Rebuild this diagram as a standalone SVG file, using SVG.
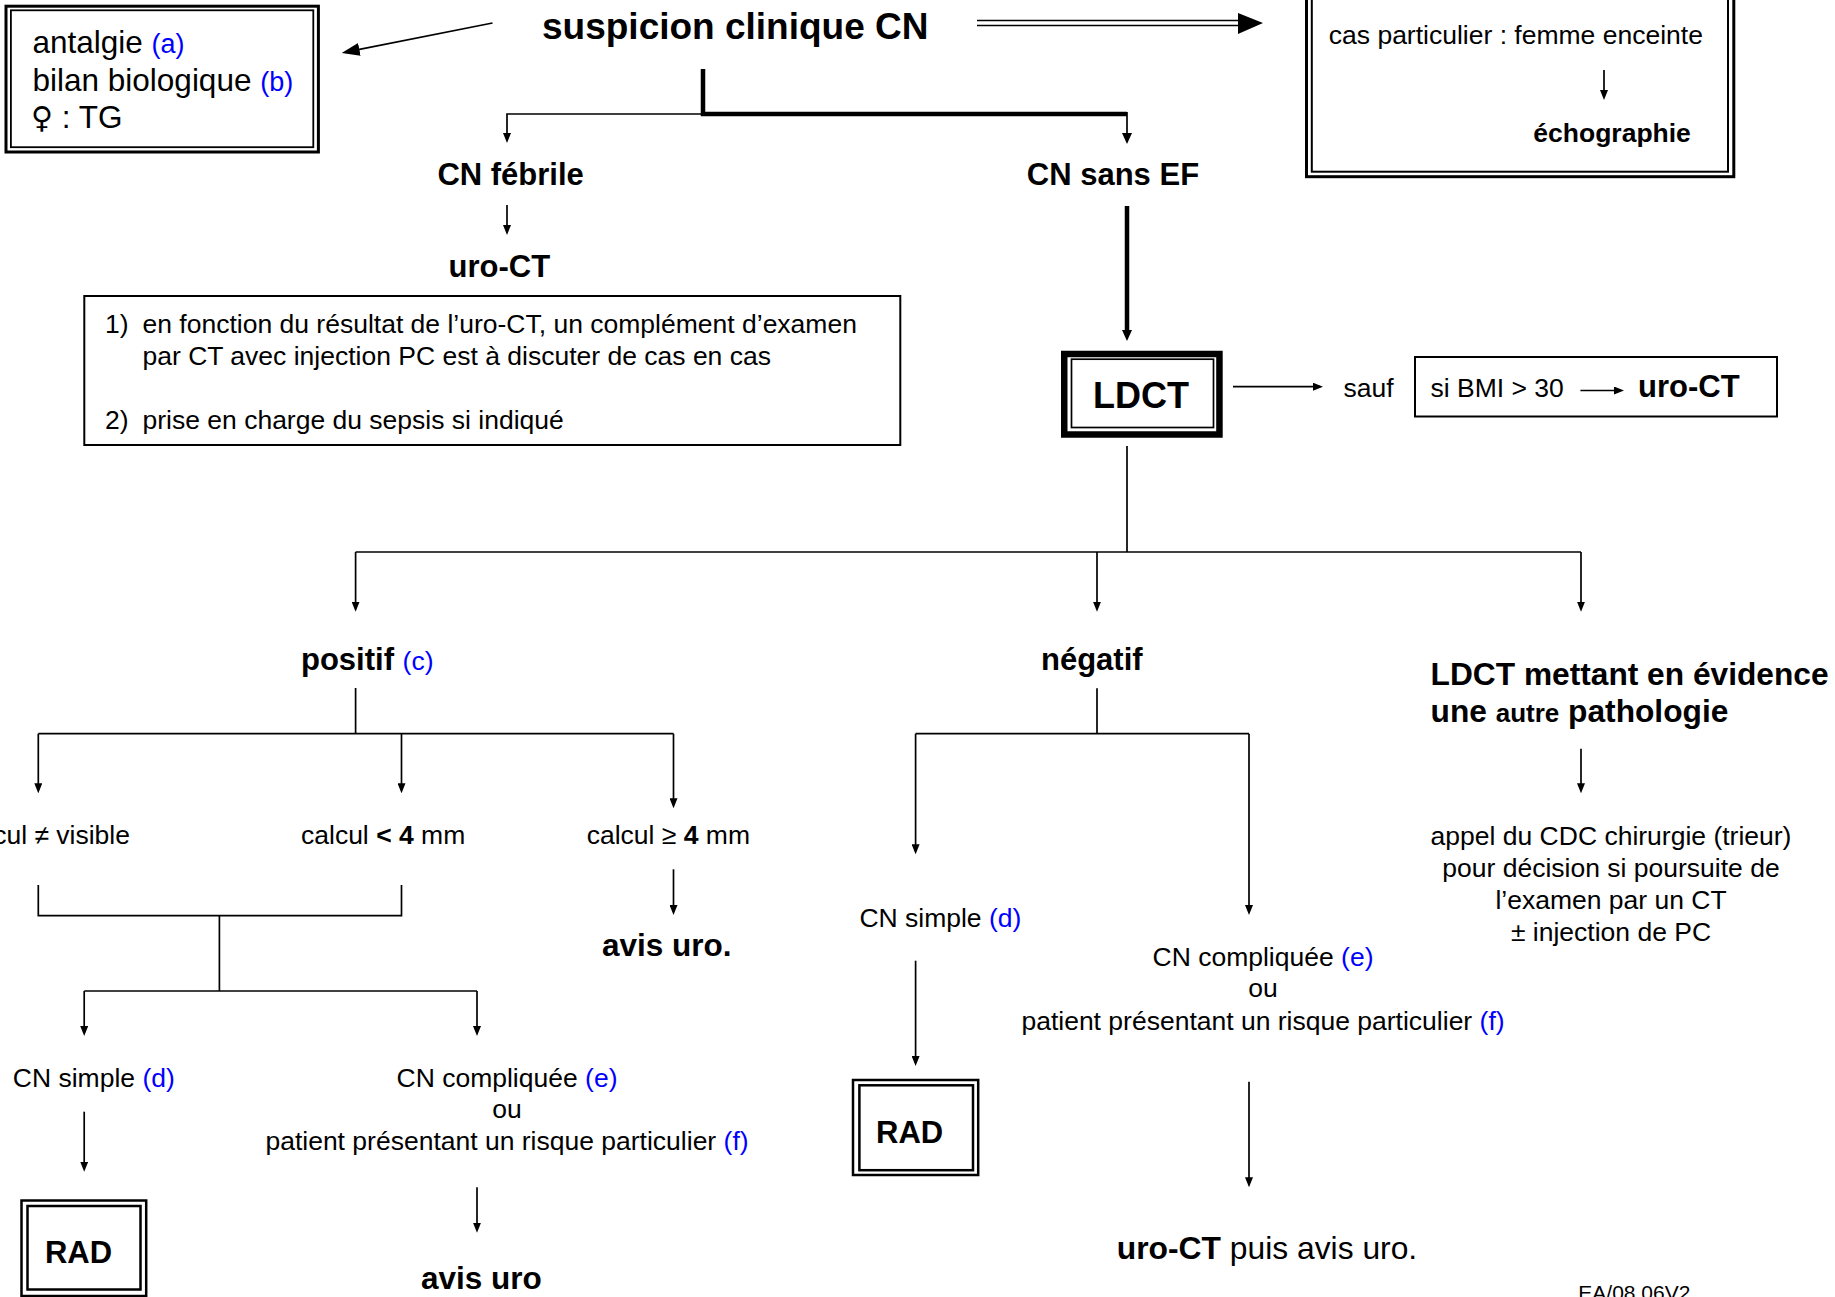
<svg xmlns="http://www.w3.org/2000/svg" width="1835" height="1297" viewBox="0 0 1835 1297">
<style>
text{font-family:"Liberation Sans",Arial,"DejaVu Sans",sans-serif;fill:#000}
.b{font-weight:bold;font-size:31px}
.r{font-weight:normal;font-size:26.5px}
.ref{fill:#0000ff;font-weight:normal;font-size:26.5px}
.ln{stroke:#000;stroke-width:1.7;fill:none}
.tk{stroke:#000;stroke-width:4.5;fill:none}
.box{fill:#fff;stroke:#000}
</style>
<defs>
<marker id="ah" markerUnits="userSpaceOnUse" viewBox="0 0 10 8" markerWidth="10" markerHeight="8" refX="7" refY="4" orient="auto"><path d="M0,0 L10,4 L0,8 z" fill="#000"/></marker>
<marker id="ahT" markerUnits="userSpaceOnUse" viewBox="0 0 11 10" markerWidth="11" markerHeight="10" refX="5" refY="5" orient="auto"><path d="M0,0 L11,5 L0,10 z" fill="#000"/></marker>
<marker id="ahL" markerUnits="userSpaceOnUse" viewBox="0 0 18 13" markerWidth="18" markerHeight="13" refX="14" refY="6.5" orient="auto"><path d="M0,0 L18,6.5 L0,13 z" fill="#000"/></marker>
</defs>
<rect width="1835" height="1297" fill="#fff"/>

<g id="n-box-antalgie">
<rect class="box" x="6" y="6.2" width="312.4" height="145.8" stroke-width="3"/>
<rect x="10.9" y="10.3" width="302.4" height="136.9" stroke="#000" stroke-width="1.8" fill="none"/>
<text x="32.5" y="53" class="r" style="font-size:31.5px">antalgie <tspan class="ref" style="font-size:27px">(a)</tspan></text>
<text x="32.5" y="91" class="r" style="font-size:31.5px">bilan biologique <tspan class="ref" style="font-size:27px">(b)</tspan></text>
<text x="31" y="128" class="r" style="font-size:31.5px"><tspan style="font-family:'DejaVu Sans',sans-serif;font-size:30px">♀</tspan> : TG</text>
</g>

<g id="n-suspicion"><text x="542" y="39" class="b" style="font-size:37px">suspicion clinique CN</text></g>

<g id="n-femme-enceinte">
<rect class="box" x="1306.5" y="-20" width="427.3" height="196.7" stroke-width="3"/>
<rect x="1311.8" y="-20" width="416.2" height="191.7" fill="none" stroke="#000" stroke-width="2"/>
<text x="1328.8" y="44" class="r">cas particulier : femme enceinte</text>
<text x="1533.3" y="141.7" class="b" style="font-size:26.5px">échographie</text>
</g>

<g id="n-cn-febrile"><text x="437.4" y="185" class="b">CN fébrile</text></g>
<g id="n-cn-sans-ef"><text x="1026.8" y="185" class="b">CN sans EF</text></g>
<g id="n-uro-ct"><text x="448.5" y="277" class="b">uro-CT</text></g>

<g id="n-notes">
<rect class="box" x="84.3" y="296" width="816" height="149" stroke-width="2"/>
<text x="105" y="333" class="r">1)</text>
<text x="142.5" y="333" class="r">en fonction du résultat de l’uro-CT, un complément d’examen</text>
<text x="142.5" y="364.5" class="r">par CT avec injection PC est à discuter de cas en cas</text>
<text x="105" y="428.5" class="r">2)</text>
<text x="142.5" y="428.5" class="r">prise en charge du sepsis si indiqué</text>
</g>

<g id="n-ldct">
<rect class="box" x="1064.25" y="354" width="155.2" height="80.5" stroke-width="6.5"/>
<rect x="1071.5" y="359.2" width="142" height="68.3" fill="none" stroke="#000" stroke-width="1.7"/>
<text x="1141" y="408.3" class="b" style="font-size:36px" text-anchor="middle">LDCT</text>
</g>

<g id="n-sauf"><text x="1343.5" y="397" class="r">sauf</text></g>

<g id="n-bmi">
<rect class="box" x="1415" y="357" width="362" height="59.5" stroke-width="2"/>
<text x="1430.5" y="397" class="r">si BMI &gt; 30</text>
<text x="1638" y="397" class="b">uro-CT</text>
</g>

<g id="n-positif"><text x="301" y="670" class="b">positif <tspan class="ref">(c)</tspan></text></g>
<g id="n-negatif"><text x="1041" y="670" class="b">négatif</text></g>
<g id="n-autre">
<text x="1430.6" y="685" class="b" style="font-size:31.7px">LDCT mettant en évidence</text>
<text x="1430.6" y="722" class="b" style="font-size:31.7px">une <tspan style="font-size:26px">autre</tspan> pathologie</text>
</g>
<g id="n-appel">
<text x="1611" y="845" class="r" text-anchor="middle">appel du CDC chirurgie (trieur)</text>
<text x="1611" y="877" class="r" text-anchor="middle">pour décision si poursuite de</text>
<text x="1611" y="909" class="r" text-anchor="middle">l’examen par un CT</text>
<text x="1611" y="941" class="r" text-anchor="middle">± injection de PC</text>
</g>

<g id="n-calcul-non-visible"><text x="130" y="844" class="r" text-anchor="end">calcul ≠ visible</text></g>
<g id="n-calcul-lt4"><text x="301" y="844" class="r">calcul <tspan font-weight="bold">&lt;</tspan> <tspan font-weight="bold">4</tspan> mm</text></g>
<g id="n-calcul-ge4"><text x="586.7" y="844" class="r">calcul ≥ <tspan font-weight="bold">4</tspan> mm</text></g>
<g id="n-avis-uro-1"><text x="602" y="956" class="b" style="font-size:31.5px">avis uro.</text></g>

<g id="n-cn-simple-1"><text x="12.8" y="1087" class="r">CN simple <tspan class="ref">(d)</tspan></text></g>
<g id="n-cn-compliquee-1">
<text x="507" y="1087" class="r" text-anchor="middle">CN compliquée <tspan class="ref">(e)</tspan></text>
<text x="507" y="1118" class="r" text-anchor="middle">ou</text>
<text x="507" y="1150" class="r" text-anchor="middle">patient présentant un risque particulier <tspan class="ref">(f)</tspan></text>
</g>
<g id="n-rad-1">
<rect class="box" x="21.5" y="1200.5" width="124.7" height="95.5" stroke-width="2.5"/>
<rect x="27.5" y="1206" width="113" height="83.5" fill="none" stroke="#000" stroke-width="2.5"/>
<text x="44.9" y="1263.3" class="b">RAD</text>
</g>
<g id="n-avis-uro-2"><text x="421" y="1288.5" class="b" style="font-size:31.5px">avis uro</text></g>

<g id="n-cn-simple-2"><text x="859.4" y="927" class="r">CN simple <tspan class="ref">(d)</tspan></text></g>
<g id="n-cn-compliquee-2">
<text x="1263" y="966" class="r" text-anchor="middle">CN compliquée <tspan class="ref">(e)</tspan></text>
<text x="1263" y="997" class="r" text-anchor="middle">ou</text>
<text x="1263" y="1030" class="r" text-anchor="middle">patient présentant un risque particulier <tspan class="ref">(f)</tspan></text>
</g>
<g id="n-rad-2">
<rect class="box" x="853" y="1080" width="125.2" height="95" stroke-width="2.5"/>
<rect x="859.4" y="1085.3" width="113.6" height="84.9" fill="none" stroke="#000" stroke-width="2.5"/>
<text x="876" y="1143" class="b">RAD</text>
</g>
<g id="n-uro-ct-puis"><text x="1116.8" y="1258.5" class="r" style="font-size:31.8px"><tspan font-weight="bold">uro-CT</tspan> puis avis uro.</text></g>
<g id="n-ref"><text x="1578.3" y="1300" class="r" style="font-size:21px">EA/08.06V2</text></g>

<g id="connectors">
<line class="ln" x1="492.5" y1="23" x2="345.6" y2="52.2" stroke-width="2" marker-end="url(#ahL)"/>
<line class="ln" x1="977" y1="20.5" x2="1240" y2="20.5" stroke-width="2"/>
<line class="ln" x1="977" y1="25.5" x2="1240" y2="25.5" stroke-width="2"/>
<polygon points="1238,13 1263,23 1238,34" fill="#000"/>
<polyline class="tk" points="703,69 703,114 1127,114"/>
<line class="ln" x1="1127" y1="112" x2="1127" y2="138" stroke-width="3" marker-end="url(#ahT)"/>
<polyline class="ln" points="703,114 507,114 507,140" marker-end="url(#ah)"/>
<line class="ln" x1="507" y1="205" x2="507" y2="232" marker-end="url(#ah)"/>
<line class="ln" x1="1604" y1="70" x2="1604" y2="97" marker-end="url(#ah)"/>
<line class="tk" x1="1127" y1="206" x2="1127" y2="335" marker-end="url(#ahT)"/>
<line class="ln" x1="1233" y1="386.7" x2="1320" y2="386.7" marker-end="url(#ah)"/>
<line class="ln" x1="1580.4" y1="390.5" x2="1621" y2="390.5" marker-end="url(#ah)"/>
<line class="ln" x1="1127" y1="446" x2="1127" y2="552"/>
<line class="ln" x1="355.6" y1="552" x2="1581" y2="552"/>
<line class="ln" x1="355.6" y1="552" x2="355.6" y2="608.7" marker-end="url(#ah)"/>
<line class="ln" x1="1097" y1="552" x2="1097" y2="608.7" marker-end="url(#ah)"/>
<line class="ln" x1="1581" y1="552" x2="1581" y2="608.7" marker-end="url(#ah)"/>
<line class="ln" x1="355.6" y1="688" x2="355.6" y2="733.7"/>
<line class="ln" x1="38.3" y1="733.7" x2="673.5" y2="733.7"/>
<line class="ln" x1="38.3" y1="733.7" x2="38.3" y2="790.3" marker-end="url(#ah)"/>
<line class="ln" x1="401.5" y1="733.7" x2="401.5" y2="790.3" marker-end="url(#ah)"/>
<line class="ln" x1="673.5" y1="733.7" x2="673.5" y2="805.3" marker-end="url(#ah)"/>
<polyline class="ln" points="38.3,885 38.3,915.7 401.5,915.7 401.5,885"/>
<line class="ln" x1="219.4" y1="915.7" x2="219.4" y2="991"/>
<line class="ln" x1="84.2" y1="991" x2="477" y2="991"/>
<line class="ln" x1="84.2" y1="991" x2="84.2" y2="1033" marker-end="url(#ah)"/>
<line class="ln" x1="477" y1="991" x2="477" y2="1033" marker-end="url(#ah)"/>
<line class="ln" x1="673.5" y1="869.3" x2="673.5" y2="912" marker-end="url(#ah)"/>
<line class="ln" x1="84.2" y1="1111.7" x2="84.2" y2="1168.7" marker-end="url(#ah)"/>
<line class="ln" x1="477" y1="1187.3" x2="477" y2="1229.7" marker-end="url(#ah)"/>
<line class="ln" x1="1097" y1="688.3" x2="1097" y2="733.7"/>
<line class="ln" x1="915.6" y1="733.7" x2="1249" y2="733.7"/>
<line class="ln" x1="915.6" y1="733.7" x2="915.6" y2="851.3" marker-end="url(#ah)"/>
<line class="ln" x1="1249" y1="733.7" x2="1249" y2="912" marker-end="url(#ah)"/>
<line class="ln" x1="915.6" y1="960.7" x2="915.6" y2="1063" marker-end="url(#ah)"/>
<line class="ln" x1="1249" y1="1081.7" x2="1249" y2="1184.3" marker-end="url(#ah)"/>
<line class="ln" x1="1581" y1="748.7" x2="1581" y2="790.3" marker-end="url(#ah)"/>
</g>
</svg>
